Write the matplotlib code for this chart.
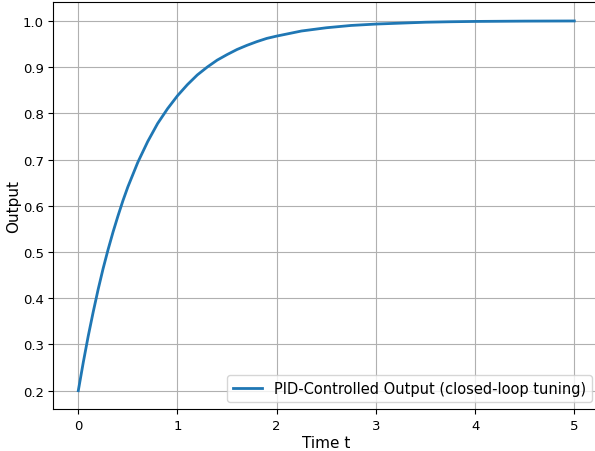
import matplotlib
matplotlib.use("Agg")
import matplotlib.pyplot as plt

t_vals = [0.0, 0.05, 0.1, 0.15, 0.2, 0.25, 0.3, 0.35, 0.4, 0.45, 0.5, 0.6, 0.7, 0.8, 0.9, 1.0,
          1.1, 1.2, 1.3, 1.4, 1.5, 1.6, 1.7, 1.8, 1.9, 2.0,
          2.25, 2.5, 2.75, 3.0, 3.25, 3.5, 3.75, 4.0, 4.5, 5.0]
y_vals = [0.200, 0.261, 0.318, 0.370, 0.419, 0.464, 0.505, 0.543, 0.578, 0.611, 0.641,
          0.694, 0.739, 0.778, 0.810, 0.838,
          0.862, 0.883, 0.900, 0.915, 0.927, 0.938, 0.947, 0.955, 0.962, 0.967,
          0.978, 0.985, 0.990, 0.993, 0.995, 0.997, 0.998, 0.9987, 0.9994, 0.9997]

fig = plt.figure(figsize=(5.95, 4.52), dpi=100)
ax = fig.add_axes([0.0899, 0.0925, 0.917, 0.8998])
ax.plot(t_vals, y_vals, color="#1f77b4", linewidth=2,
        label="PID-Controlled Output (closed-loop tuning)")
ax.tick_params(labelsize=9.5)
ax.set_xlabel("Time t", fontsize=11, labelpad=2)
ax.set_ylabel("Output", fontsize=11, labelpad=1)
ax.grid(True)
ax.legend(loc="lower right", fontsize=10.5)
fig.savefig("out.png", dpi=100)
